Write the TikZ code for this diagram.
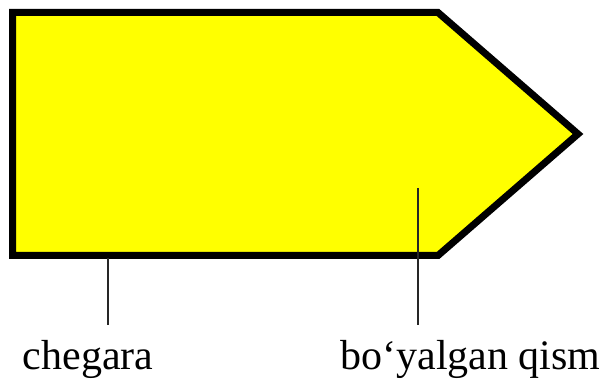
\documentclass[tikz,border=0pt]{standalone}
\usepackage{fontspec}
\setmainfont{Liberation Serif}
\usetikzlibrary{positioning}
\definecolor{paint}{RGB}{255,255,0}

\begin{document}
\begin{tikzpicture}[
    x=1pt, y=1pt,
    lbl/.style={anchor=base, font=\fontsize{42}{48}\selectfont, inner sep=0pt},
    leader/.style={draw, line width=1.5pt, black!85}
]
    \useasboundingbox (0,0) rectangle (604,379);

    % the painted arrow
    \coordinate (tl) at (12.5,366.5);
    \coordinate (ts) at (438,366.5);
    \coordinate (tip) at (578,245);
    \coordinate (bs) at (438,123.5);
    \coordinate (bl) at (12.5,123.5);
    \filldraw[fill=paint, line width=7pt, line join=miter] (tl) -- (ts) -- (tip) -- (bs) -- (bl) -- cycle;

    % labels
    \node[lbl] (chegara) at (88,9.5) {chegara};
    \node[lbl] (qism) at (470.5,9.5) {bo‘yalgan qism};

    \coordinate (edge) at (108,121);
    \coordinate (edgeEnd) at (108,54);
    \coordinate (inside) at (418,191);
    \coordinate (insideEnd) at (418,54);
    \draw[leader] (edge) -- (edgeEnd);
    \draw[leader] (inside) -- (insideEnd);
\end{tikzpicture}
\end{document}
